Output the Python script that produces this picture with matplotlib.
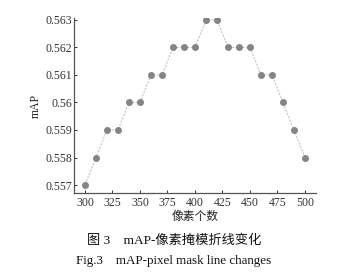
import matplotlib
matplotlib.use("Agg")
import matplotlib.pyplot as plt

plt.rcParams['font.family'] = ['Liberation Serif', 'Noto Sans CJK SC']

pixels = [300, 310, 320, 330, 340, 350, 360, 370, 380, 390, 400,
          410, 420, 430, 440, 450, 460, 470, 480, 490, 500]
mAP = [0.557, 0.558, 0.559, 0.559, 0.560, 0.560, 0.561, 0.561, 0.562, 0.562, 0.562,
       0.563, 0.563, 0.562, 0.562, 0.562, 0.561, 0.561, 0.560, 0.559, 0.558]
xticks = [300, 325, 350, 375, 400, 425, 450, 475, 500]
yticks = [0.557, 0.558, 0.559, 0.56, 0.561, 0.562, 0.563]
ytick_labels = ['0.557', '0.558', '0.559', '0.56', '0.561', '0.562', '0.563']

fig = plt.figure(figsize=(3.48, 2.73), dpi=100)
ax = fig.add_axes([74/348, 1 - 193/273, (316-74)/348, (193-18)/273])

ax.plot(pixels, mAP, linestyle='--', color='#c4c4c4', linewidth=0.8,
        marker='o', markersize=4.0, markerfacecolor='#858585',
        markeredgecolor='#858585', dashes=(2, 1.2))

ax.set_xlim(290, 510)
ax.set_ylim(0.55671, 0.56307)
ax.set_xticks(xticks)
ax.set_xticklabels([str(t) for t in xticks])
ax.set_yticks(yticks)
ax.set_yticklabels(ytick_labels)
for s in ['top', 'right']:
    ax.spines[s].set_visible(False)
for s in ['left', 'bottom']:
    ax.spines[s].set_color('#555555')
    ax.spines[s].set_linewidth(0.9)
ax.tick_params(direction='in', length=2.5, width=0.7, colors='#333333',
               labelsize=8.5, pad=3)
ax.tick_params(axis='y', pad=1.5)

ax.set_xlabel('像素个数', fontsize=8.5, color='#222222', labelpad=1.5)
ax.set_ylabel('mAP', fontsize=8.5, color='#222222', labelpad=2)

fig.text(0.5, 1 - 241/273, '图 3    mAP-像素掩模折线变化', ha='center', va='center',
         fontsize=9.5, color='#111111')
fig.text(0.5, 1 - 261/273, 'Fig.3    mAP-pixel mask line changes', ha='center', va='center',
         fontsize=9.4, color='#111111')

fig.savefig('out.png', dpi=100)
